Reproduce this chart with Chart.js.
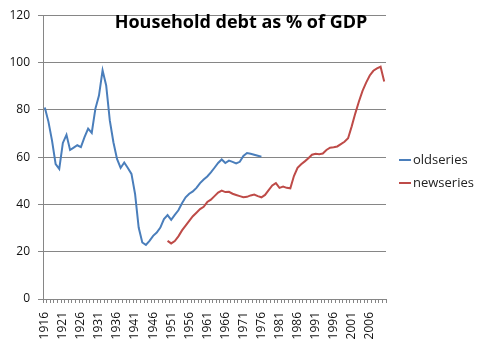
<!DOCTYPE html>
<html>
<head>
<meta charset="utf-8">
<script src="https://cdn.jsdelivr.net/npm/chart.js@4"></script>
<style>
  html, body { margin: 0; padding: 0; background: #fff; }
  #wrap { width: 480px; height: 358px; position: relative; }
</style>
</head>
<body>
<div id="wrap"><canvas id="debtCanvas" width="480" height="358"></canvas></div>
<script>
const chartTitle = "Household debt as % of GDP";
const firstYear = 1916;
const lastYear = 2010;
const years = [];
for (let y = firstYear; y <= lastYear; y++) years.push(String(y));

// 1916 - 1976
const oldSeries = [
    81, 75, 67, 57, 55, 66, 69.4, 63, 64, 65,
    64.2, 68.4, 72, 70.2, 80.4, 86, 96.7, 90.3, 75.5, 66.3,
    59.2, 55.4, 57.7, 55.4, 52.9, 44.4, 30.2, 23.9, 22.9, 24.6,
    26.7, 28.1, 30.2, 33.8, 35.5, 33.5, 35.6, 37.5, 40.5, 43,
    44.5, 45.5, 47, 49, 50.5, 51.8, 53.5, 55.5, 57.5, 59,
    57.5, 58.5, 58, 57.3, 58, 60.5, 61.7, 61.4, 61, 60.6,
    60.2
];
// 1950 - 2010
const newSeries = [
    24.6, 23.5, 24.5, 26.5, 29, 31, 33, 35, 36.5, 38,
    39, 41, 42, 43.5, 45, 45.8, 45.2, 45.3, 44.5, 44,
    43.5, 43, 43.2, 43.8, 44.2, 43.5, 43, 44, 46, 48,
    49, 47, 47.5, 47, 46.8, 52, 55.5, 57, 58.2, 59.5,
    61, 61.4, 61.2, 61.5, 63, 64, 64.2, 64.5, 65.5, 66.5,
    68, 73, 78.5, 83.5, 88, 91.5, 94.5, 96.5, 97.5, 98.2,
    92
];
const oldStart = 1916;
const newStart = 1950;

function placeSeries(values, start) {
    const out = years.map(() => null);
    values.forEach((v, i) => { out[start - firstYear + i] = v; });
    return out;
}

const overlay = {
    id: "overlay",
    afterDraw(chart) {
        const c = chart.ctx;
        const area = chart.chartArea;
        c.save();
        c.fillStyle = "#000";
        c.font = "bold 18px 'Open Sans', sans-serif";
        c.textAlign = "center";
        c.textBaseline = "middle";
        c.fillText(chartTitle, 241, 23);
        // legend
        c.font = "13px 'Open Sans', sans-serif";
        c.textAlign = "left";
        chart.data.datasets.forEach((ds, i) => {
            const y = 160 + i * 23;
            c.strokeStyle = ds.borderColor;
            c.lineWidth = 2;
            c.beginPath();
            c.moveTo(area.right + 13, y);
            c.lineTo(area.right + 25, y);
            c.stroke();
            c.fillStyle = "#222";
            c.fillText(ds.label, area.right + 27, y);
        });
        c.restore();
    }
};

const ctx = document.getElementById("debtCanvas").getContext("2d");
new Chart(ctx, {
    type: "line",
    data: {
        labels: years,
        datasets: [
            {
                label: "oldseries",
                data: placeSeries(oldSeries, oldStart),
                borderColor: "#4a7ebb",
                borderWidth: 2,
                pointRadius: 0,
                tension: 0,
            },
            {
                label: "newseries",
                data: placeSeries(newSeries, newStart),
                borderColor: "#be4b48",
                borderWidth: 2,
                pointRadius: 0,
                tension: 0,
            },
        ],
    },
    options: {
        responsive: false,
        animation: false,
        layout: { padding: { left: 0, right: 94, top: 9, bottom: 0 } },
        plugins: {
            legend: { display: false },
            tooltip: { enabled: false },
        },
        scales: {
            x: {
                offset: true,
                grid: { offset: true, drawOnChartArea: false, color: "#868686", tickLength: 4 },
                border: { color: "#868686" },
                afterFit: (scale) => { scale.height = 59; },
                ticks: {
                    autoSkip: false,
                    maxRotation: 90,
                    minRotation: 90,
                    padding: 9,
                    color: "#111",
                    font: { family: "'Open Sans', sans-serif", size: 12 },
                    callback: function (val, i) {
                        const y = Number(this.getLabelForValue(val));
                        return (y - firstYear) % 5 === 0 ? String(y) : "";
                    },
                },
            },
            y: {
                min: 0,
                max: 120,
                grid: { color: "#868686", tickLength: 5 },
                border: { color: "#868686" },
                afterFit: (scale) => { scale.width = 43; },
                ticks: {
                    stepSize: 20,
                    padding: 8,
                    color: "#111",
                    font: { family: "'Open Sans', sans-serif", size: 12 },
                },
            },
        },
    },
    plugins: [overlay],
});
</script>
</body>
</html>
